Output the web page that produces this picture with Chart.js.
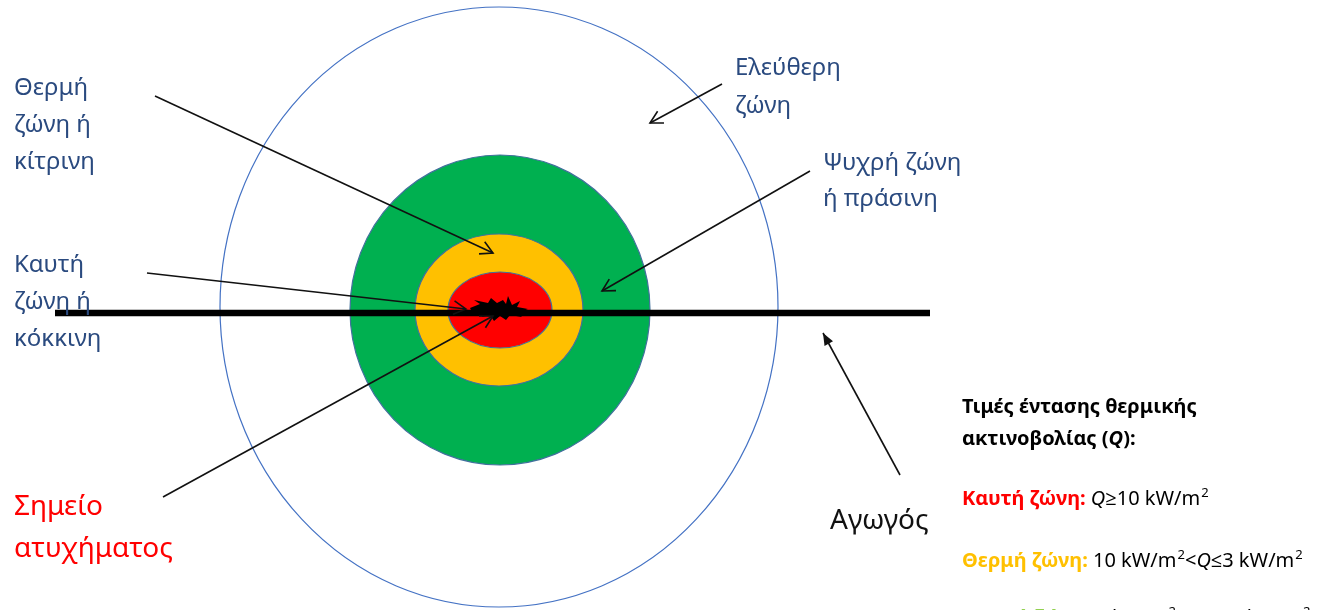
<!DOCTYPE html>
<html>
<head>
<meta charset="utf-8">
<script src="https://cdn.jsdelivr.net/npm/chart.js@4/dist/chart.umd.min.js"></script>
<style>
  html, body { margin: 0; padding: 0; background: #fff; }
  #wrap { width: 1336px; height: 610px; position: relative; }
</style>
</head>
<body>
<div id="wrap"><canvas id="zones"></canvas></div>
<script>
// zones (outer to inner): centre and radii in diagram units
var zoneNames = ["Ελεύθερη ζώνη", "Ψυχρή ζώνη", "Θερμή ζώνη", "Καυτή ζώνη"];
var zoneCenterX = [499, 500, 499, 500];
var zoneCenterY = [307, 310, 310, 310];
var zoneRadiusX = [279, 150, 84, 52];
var zoneRadiusY = [300, 155, 76, 38];

// pipeline (Αγωγός)
var pipeX = [55, 930];
var pipeY = [313, 313];

// pointer arrows: label -> target
var arrowNames = ["Θερμή", "Καυτή", "Σημείο", "Ελεύθερη", "Ψυχρή", "Αγωγός"];
var arrowFromX = [155, 147, 163, 722, 810, 900];
var arrowFromY = [96, 273, 497, 84, 171, 475];
var arrowToX = [493, 466, 493, 650, 602, 823];
var arrowToY = [253, 309, 316, 123, 291, 333];

// labels
var labelLines = [
  ["Θερμή", "ζώνη ή", "κίτρινη"],
  ["Καυτή", "ζώνη ή", "κόκκινη"],
  ["Ελεύθερη", "ζώνη"],
  ["Ψυχρή ζώνη", "ή πράσινη"],
  ["Σημείο", "ατυχήματος"],
  ["Αγωγός"]
];
var labelX = [14, 14, 735, 823, 14, 830];
var labelY = [95, 272, 75, 170, 515, 529];

var legendTitle = ["Τιμές έντασης θερμικής", "ακτινοβολίας (Q):"];
var legendZones = ["Καυτή ζώνη:", "Θερμή ζώνη:", "Ψυχρή ζώνη:"];
var legendValues = [
  [["Q", "i"], ["≥10 kW/m"], ["2", "s"]],
  [["10 kW/m"], ["2", "s"], ["<"], ["Q", "i"], ["≤3 kW/m"], ["2", "s"]],
  [["3 kW/m"], ["2", "s"], ["<"], ["Q", "i"], ["≤1,6 kW/m"], ["2", "s"]]
];

var zoneFill = ["rgba(0,0,0,0)", "#00b050", "#ffc000", "#ff0000"];
var zoneEdge = ["#4472c4", "#41719c", "#41719c", "#41719c"];
var legendColors = ["#ff0000", "#ffc000", "#92d050"];
var blue = "#2a4a7f";
var FONT = "'Noto Sans', 'Open Sans', sans-serif";

var datasets = [];
datasets.push({
  label: "Αγωγός",
  data: [{ x: pipeX[0], y: pipeY[0] }, { x: pipeX[1], y: pipeY[1] }],
  showLine: true, borderColor: "#000", borderWidth: 6.5, pointRadius: 0, order: 2
});
for (var i = 0; i < arrowNames.length; i++) {
  datasets.push({
    label: arrowNames[i],
    data: [{ x: arrowFromX[i], y: arrowFromY[i] }, { x: arrowToX[i], y: arrowToY[i] }],
    showLine: true, borderColor: "#111", borderWidth: 1.6, pointRadius: 0, order: 1
  });
}

var zonesPlugin = {
  id: "zones",
  beforeDatasetsDraw: function (chart) {
    var c = chart.ctx, sx = chart.scales.x, sy = chart.scales.y;
    c.save();
    for (var i = 0; i < zoneNames.length; i++) {
      var px = sx.getPixelForValue(zoneCenterX[i]);
      var py = sy.getPixelForValue(zoneCenterY[i]);
      var rx = Math.abs(sx.getPixelForValue(zoneCenterX[i] + zoneRadiusX[i]) - px);
      var ry = Math.abs(sy.getPixelForValue(zoneCenterY[i] + zoneRadiusY[i]) - py);
      c.beginPath();
      c.ellipse(px, py, rx, ry, 0, 0, Math.PI * 2);
      c.fillStyle = zoneFill[i];
      c.fill();
      c.lineWidth = 1.2;
      c.strokeStyle = zoneEdge[i];
      c.stroke();
    }
    // accident point burst
    var cx = sx.getPixelForValue(zoneCenterX[3]), cy = sy.getPixelForValue(zoneCenterY[3]);
    var burst = [[-30,-2],[-20,-6],[-26,-10],[-12,-7],[-9,-12],[-3,-7],[3,-10],[6,-6],[8,-14],[12,-5],
      [20,-9],[17,-3],[28,-1],[18,3],[22,7],[10,5],[6,10],[0,6],[-6,11],[-10,5],[-18,7],[-16,3],[-28,2]];
    c.beginPath();
    burst.forEach(function (p, k) {
      if (k === 0) c.moveTo(cx + p[0], cy + p[1]); else c.lineTo(cx + p[0], cy + p[1]);
    });
    c.closePath();
    c.fillStyle = "#000";
    c.fill();
    c.restore();
  },
  afterDatasetsDraw: function (chart) {
    var c = chart.ctx, sx = chart.scales.x, sy = chart.scales.y;
    c.save();
    // arrow heads
    for (var i = 0; i < arrowNames.length; i++) {
      var x0 = sx.getPixelForValue(arrowFromX[i]), y0 = sy.getPixelForValue(arrowFromY[i]);
      var x1 = sx.getPixelForValue(arrowToX[i]), y1 = sy.getPixelForValue(arrowToY[i]);
      var a = Math.atan2(y1 - y0, x1 - x0);
      var len = arrowNames[i] === "Αγωγός" ? 13 : 14, spread = arrowNames[i] === "Αγωγός" ? 0.38 : 0.5;
      c.beginPath();
      c.moveTo(x1 - len * Math.cos(a - spread), y1 - len * Math.sin(a - spread));
      c.lineTo(x1, y1);
      c.lineTo(x1 - len * Math.cos(a + spread), y1 - len * Math.sin(a + spread));
      if (arrowNames[i] === "Αγωγός") {
        c.closePath();
        c.fillStyle = "#111";
        c.fill();
      } else {
        c.strokeStyle = "#111";
        c.lineWidth = 1.6;
        c.stroke();
      }
    }
    // labels
    var styles = [
      { size: 24, color: blue, gap: 37 },
      { size: 24, color: blue, gap: 37 },
      { size: 24, color: blue, gap: 38 },
      { size: 24, color: blue, gap: 36 },
      { size: 28, color: "#ff0000", gap: 42 },
      { size: 28, color: "#111", gap: 40 }
    ];
    c.textBaseline = "alphabetic";
    c.textAlign = "left";
    for (var j = 0; j < labelLines.length; j++) {
      var st = styles[j];
      c.font = st.size + "px " + FONT;
      c.fillStyle = st.color;
      for (var k = 0; k < labelLines[j].length; k++) {
        c.fillText(labelLines[j][k], sx.getPixelForValue(labelX[j]), sy.getPixelForValue(labelY[j]) + k * st.gap);
      }
    }
    // legend block
    var FS = 20;
    var lx = sx.getPixelForValue(962);
    var ty = sy.getPixelForValue(413);
    c.fillStyle = "#000";
    c.font = "bold " + FS + "px " + FONT;
    c.fillText(legendTitle[0], lx, ty);
    var t2 = "ακτινοβολίας (";
    c.fillText(t2, lx, ty + 32);
    var w = c.measureText(t2).width;
    c.font = "italic bold " + FS + "px " + FONT;
    c.fillText("Q", lx + w, ty + 32);
    w += c.measureText("Q").width;
    c.font = "bold " + FS + "px " + FONT;
    c.fillText("):", lx + w, ty + 32);

    var rowY = [505, 567, 624];
    for (var r = 0; r < legendZones.length; r++) {
      var y = sy.getPixelForValue(rowY[r]);
      var x = lx;
      c.font = "bold " + FS + "px " + FONT;
      c.fillStyle = legendColors[r];
      c.fillText(legendZones[r] + " ", x, y);
      x += c.measureText(legendZones[r] + " ").width;
      c.fillStyle = "#000";
      legendValues[r].forEach(function (seg) {
        var kind = seg[1] || "";
        if (kind === "s") {
          c.font = "13px " + FONT;
          c.fillText(seg[0], x + 1, y - 8);
          x += c.measureText(seg[0]).width + 1;
        } else {
          c.font = (kind === "i" ? "italic " : "") + FS + "px " + FONT;
          c.fillText(seg[0], x, y);
          x += c.measureText(seg[0]).width;
        }
      });
    }
    c.restore();
  }
};

var chart = new Chart(document.getElementById("zones").getContext("2d"), {
  type: "scatter",
  data: { datasets: datasets },
  options: {
    responsive: true,
    maintainAspectRatio: false,
    animation: false,
    layout: { padding: 0 },
    plugins: { legend: { display: false }, tooltip: { enabled: false } },
    scales: {
      x: { type: "linear", min: 0, max: 1336, display: false },
      y: { type: "linear", min: 0, max: 610, reverse: true, display: false }
    }
  },
  plugins: [zonesPlugin]
});
</script>
</body>
</html>
